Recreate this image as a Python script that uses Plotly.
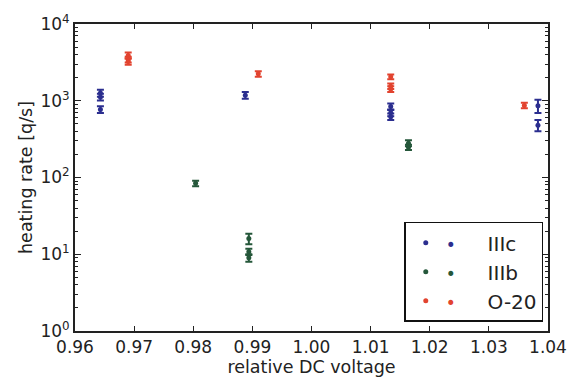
import plotly.graph_objects as go

# Data
IIIc_x = [0.9643, 0.9643, 0.9643, 0.9888, 1.0134, 1.0134, 1.0134, 1.0383, 1.0383]
IIIc_y = [1260, 1120, 770, 1180, 840, 700, 620, 860, 480]
IIIc_err = [130, 110, 80, 120, 80, 70, 60, 170, 80]

IIIb_x = [0.9804, 0.9894, 0.9894, 0.9894, 1.0164, 1.0164]
IIIb_y = [84, 16, 10.8, 9, 280, 248]
IIIb_err = [7, 2.5, 1.0, 1.0, 25, 20]

O20_x = [0.969, 0.969, 0.969, 0.9910, 1.0134, 1.0134, 1.0134, 1.036]
O20_y = [3900, 3450, 3250, 2240, 2050, 1550, 1420, 870]
O20_err = [350, 300, 300, 180, 150, 130, 120, 70]

series = [
    ("IIIc", IIIc_x, IIIc_y, IIIc_err, "#2b2e8f"),
    ("IIIb", IIIb_x, IIIb_y, IIIb_err, "#25573a"),
    ("O-20", O20_x, O20_y, O20_err, "#e2432f"),
]

x_ticks = [0.96, 0.97, 0.98, 0.99, 1.00, 1.01, 1.02, 1.03, 1.04]
y_tickvals = [1, 10, 100, 1000, 10000]
y_ticktext = ["10<sup>0</sup>", "10<sup>1</sup>", "10<sup>2</sup>", "10<sup>3</sup>", "10<sup>4</sup>"]

fig = go.Figure()
for name, xs, ys, es, col in series:
    fig.add_trace(go.Scatter(
        x=xs, y=ys, mode="markers",
        name=f"<span style='color:{col};font-size:17px'>•</span>     {name}",
        marker=dict(color=col, size=5),
        error_y=dict(type="data", array=es, visible=True, color=col,
                     thickness=2, width=3.5),
    ))

font = "DejaVu Sans, Arial, sans-serif"
fig.update_layout(
    width=579, height=385,
    margin=dict(l=75, r=22, t=14, b=51),
    paper_bgcolor="white", plot_bgcolor="white",
    font=dict(family=font, size=17, color="#222"),
    showlegend=True,
    legend=dict(x=0.99, y=0.03, xanchor="right", yanchor="bottom",
                bordercolor="#111", borderwidth=1.5, bgcolor="white",
                font=dict(size=20, family=font, color="#222"),
                itemsizing="trace", itemwidth=30, tracegroupgap=0),
)
fig.update_xaxes(
    range=[0.96, 1.04], tickvals=x_ticks,
    ticktext=[f"{v:.2f}" for v in x_ticks],
    ticks="inside", ticklen=5, tickwidth=1.2, tickcolor="#222",
    showline=True, linecolor="#222", linewidth=2, mirror="allticks",
    showgrid=False, zeroline=False,
    title=dict(text="relative DC voltage", font=dict(size=17.5), standoff=3),
)
fig.update_yaxes(
    type="log", range=[0, 4], tickvals=y_tickvals, ticktext=y_ticktext,
    ticks="inside", ticklen=6, tickwidth=1.2, tickcolor="#222",
    minor=dict(ticks="inside", ticklen=3, tickcolor="#222", dtick="D1", showgrid=False),
    showline=True, linecolor="#222", linewidth=2, mirror="allticks",
    showgrid=False, zeroline=False,
    title=dict(text="heating rate [q/s]", font=dict(size=17.5), standoff=3),
)
fig.write_html("out.html")
